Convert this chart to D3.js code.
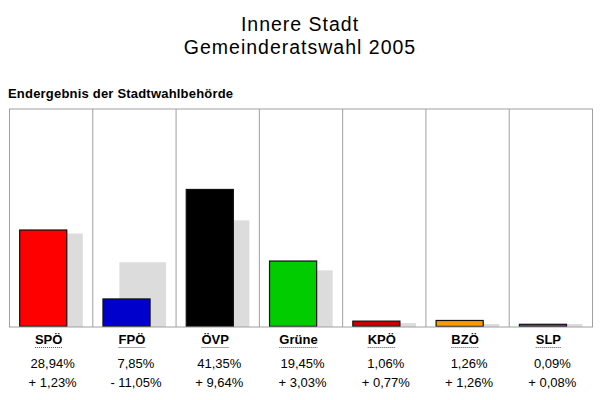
<!DOCTYPE html>
<html>
<head>
<meta charset="utf-8">
<script src="https://cdn.jsdelivr.net/npm/d3@7"></script>
<style>
  body { margin: 0; background: #fff; }
  svg { font-family: Arial, "Liberation Sans", sans-serif; }
</style>
</head>
<body>
<div id="chart"></div>
<script>
var parties  = ['SPÖ', 'FPÖ', 'ÖVP', 'Grüne', 'KPÖ', 'BZÖ', 'SLP'];
var result   = [28.94, 7.85, 41.35, 19.45, 1.06, 1.26, 0.09];
var change   = [1.23, -11.05, 9.64, 3.03, 0.77, 1.26, 0.08];
var previous = [27.71, 18.90, 31.71, 16.42, 0.29, 0.00, 0.01];
var colors   = ['#ff0000', '#0000cc', '#000000', '#00cc00', '#cc0000', '#ff9900', '#993399'];

var W = 600, H = 400;
var base = 3; // every bar gets a small base so zero values stay visible

var svg = d3.select('#chart').append('svg')
  .attr('width', W)
  .attr('height', H);

var fmt = (v) => v.toFixed(2).replace('.', ',');
var fmt_change = (v) => (v < 0 ? '- ' : '+ ') + fmt(Math.abs(v)) + '%';

var data = parties.map((p, i) => ({
  party: p,
  v: result[i],
  d: change[i],
  prev: previous[i],
  color: colors[i]
}));

var x = d3.scaleBand()
  .domain(parties)
  .range([9.5, 592.5])
  .padding(0);

var y = d3.scaleLinear()
  .domain([0, 66.7])
  .range([327, 109]);

var bw = x.bandwidth();

// titles
svg.append('text')
  .attr('x', 300).attr('y', 31)
  .attr('text-anchor', 'middle')
  .style('font-size', '19.5px')
  .style('letter-spacing', '1px')
  .text('Innere Stadt');

svg.append('text')
  .attr('x', 300).attr('y', 54)
  .attr('text-anchor', 'middle')
  .style('font-size', '19.5px')
  .style('letter-spacing', '1px')
  .text('Gemeinderatswahl 2005');

svg.append('text')
  .attr('x', 8).attr('y', 98)
  .style('font-size', '13px')
  .style('font-weight', 'bold')
  .style('letter-spacing', '0.2px')
  .text('Endergebnis der Stadtwahlbehörde');

var gph = svg.append('g').attr('class', 'bar-graph');

// previous result (grey, behind)
gph.selectAll('rect.prev')
  .data(data).enter()
  .append('rect')
  .attr('class', 'prev')
  .attr('x', (d) => x(d.party) + bw * 0.32)
  .attr('width', bw * 0.56)
  .attr('y', (d) => y(d.prev) - base)
  .attr('height', (d) => y(0) - y(d.prev) + base)
  .style('fill', '#dcdcdc');

// current result
gph.selectAll('rect.bar')
  .data(data).enter()
  .append('rect')
  .attr('class', 'bar')
  .attr('x', (d) => x(d.party) + bw * 0.115 + 0.6)
  .attr('width', bw * 0.58 - 1.2)
  .attr('y', (d) => y(d.v) - base + 0.6)
  .attr('height', (d) => y(0) - y(d.v) + base - 1.2)
  .style('fill', (d) => d.color)
  .style('stroke', '#111')
  .style('stroke-width', 1.2);

// frame and separators
gph.selectAll('line.sep')
  .data(parties.slice(1)).enter()
  .append('line')
  .attr('class', 'sep')
  .attr('x1', (d) => x(d)).attr('x2', (d) => x(d))
  .attr('y1', y.range()[1]).attr('y2', y(0))
  .style('stroke', '#a0a0a0');

gph.append('rect')
  .attr('x', x.range()[0]).attr('y', y.range()[1])
  .attr('width', x.range()[1] - x.range()[0])
  .attr('height', y(0) - y.range()[1])
  .style('fill', 'none')
  .style('stroke', '#a0a0a0');

// labels
var lab = svg.selectAll('g.lab')
  .data(data).enter()
  .append('g')
  .attr('class', 'lab')
  .attr('transform', (d) => `translate(${x(d.party) + bw / 2},0)`);

lab.append('text')
  .attr('class', 'party')
  .attr('x', -2.5).attr('y', 344)
  .attr('text-anchor', 'middle')
  .style('font-size', '13px')
  .style('font-weight', 'bold')
  .text((d) => d.party);

lab.each(function() {
  var g = d3.select(this);
  var bb = g.select('text.party').node().getBBox();
  g.append('line')
    .attr('x1', bb.x).attr('x2', bb.x + bb.width)
    .attr('y1', 347.5).attr('y2', 347.5)
    .style('stroke', '#555')
    .style('stroke-dasharray', '1,1');
});

lab.append('text')
  .attr('x', 1.5).attr('y', 368)
  .attr('text-anchor', 'middle')
  .style('font-size', '13px')
  .text((d) => fmt(d.v) + '%');

lab.append('text')
  .attr('x', 1.5).attr('y', 387)
  .attr('text-anchor', 'middle')
  .style('font-size', '13px')
  .text((d) => fmt_change(d.d));
</script>
</body>
</html>
